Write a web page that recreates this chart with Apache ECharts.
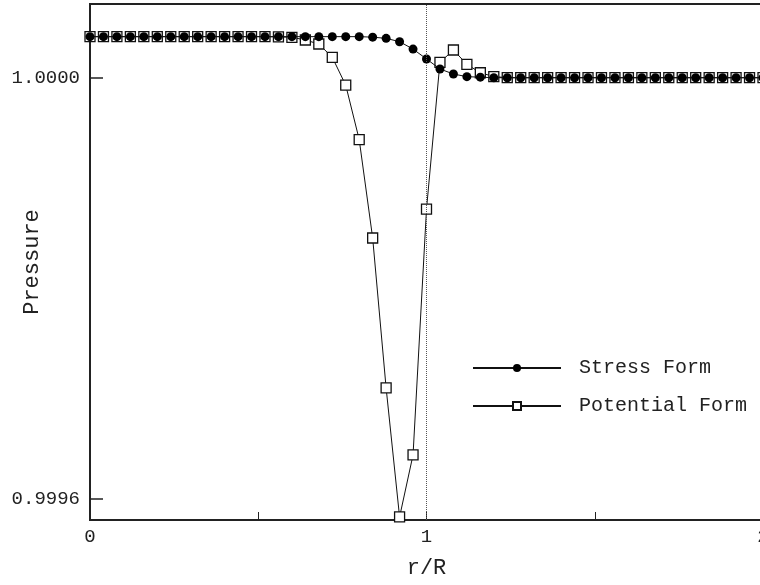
<!DOCTYPE html>
<html>
<head>
<meta charset="utf-8">
<script src="https://cdn.jsdelivr.net/npm/echarts@6/dist/echarts.min.js"></script>
<style>html,body{margin:0;padding:0;background:#fff;}#c{width:760px;height:585px;}</style>
</head>
<body>
<div id="c"></div>
<script>
const xValues = [0.00,0.04,0.08,0.12,0.16,0.20,0.24,0.28,0.32,0.36,0.40,0.44,0.48,0.52,0.56,0.60,0.64,0.68,0.72,0.76,0.80,0.84,0.88,0.92,0.96,1.00,1.04,1.08,1.12,1.16,1.20,1.24,1.28,1.32,1.36,1.40,1.44,1.48,1.52,1.56,1.60,1.64,1.68,1.72,1.76,1.80,1.84,1.88,1.92,1.96,2.00];
const stressForm = [1.000039,1.000039,1.000039,1.000039,1.000039,1.000039,1.000039,1.000039,1.000039,1.000039,1.000039,1.000039,1.000039,1.000039,1.000039,1.000039,1.000039,1.000039,1.000039,1.000039,1.000039,1.0000385,1.0000374,1.0000342,1.0000272,1.0000178,1.0000083,1.0000035,1.000001,1.0000005,1.0,1.0,1.0,1.0,1.0,1.0,1.0,1.0,1.0,1.0,1.0,1.0,1.0,1.0,1.0,1.0,1.0,1.0,1.0,1.0,1.0];
const potentialForm = [1.000039,1.000039,1.000039,1.000039,1.000039,1.000039,1.000039,1.000039,1.000039,1.000039,1.000039,1.000039,1.000039,1.000039,1.0000388,1.0000384,1.0000358,1.000032,1.0000194,0.9999929,0.9999413,0.9998478,0.9997054,0.9995829,0.9996418,0.9998753,1.0000146,1.0000263,1.0000127,1.0000047,1.0000011,1.0,1.0,1.0,1.0,1.0,1.0,1.0,1.0,1.0,1.0,1.0,1.0,1.0,1.0,1.0,1.0,1.0,1.0,1.0,1.0];
const yTickValues = [0.9996, 1.0];
const seriesNames = ['Stress Form', 'Potential Form'];

const FONT = 'Liberation Mono';
const chart = echarts.init(document.getElementById('c'), null, {renderer: 'canvas'});
const pair = (ys) => xValues.map((x, i) => [x, ys[i]]);

chart.setOption({
  animation: false,
  backgroundColor: '#fff',
  grid: {left: 90, top: 4, width: 673, height: 516, outerBoundsMode: 'none', containLabel: false,
    show: true, borderColor: '#222', borderWidth: 2, backgroundColor: 'transparent'},
  xAxis: {
    type: 'value', min: 0, max: 2, interval: 0.5,
    name: 'r/R', nameLocation: 'middle', nameGap: 37, nameMoveOverlap: false,
    nameTextStyle: {fontFamily: FONT, fontSize: 22, color: '#222'},
    axisLine: {show: true, lineStyle: {color: '#222', width: 2}},
    axisTick: {show: true, inside: true, length: 8, lineStyle: {color: '#222', width: 1}},
    axisLabel: {margin: 7, fontFamily: FONT, fontSize: 19, color: '#222', hideOverlap: false,
      formatter: v => (Math.abs(v - Math.round(v)) < 1e-9 ? String(Math.round(v)) : '')},
    splitLine: {show: false}
  },
  yAxis: {
    type: 'value', min: 0.99958, max: 1.00007,
    name: 'Pressure', nameLocation: 'middle', nameGap: 47, nameMoveOverlap: false,
    nameTextStyle: {fontFamily: FONT, fontSize: 22, color: '#222'},
    axisLine: {show: true, lineStyle: {color: '#222', width: 2}},
    axisTick: {show: true, inside: true, length: 13, customValues: yTickValues, lineStyle: {color: '#222', width: 1.5}},
    axisLabel: {margin: 10, fontFamily: FONT, fontSize: 19, color: '#222', customValues: yTickValues,
      formatter: v => v.toFixed(4)},
    splitLine: {show: false}
  },
  legend: {
    orient: 'vertical', left: 472, top: 358, padding: 0,
    data: seriesNames,
    itemWidth: 88, itemHeight: 10, itemGap: 18,
    textStyle: {fontFamily: FONT, fontSize: 20, color: '#222', padding: [0, 0, 0, 13]}
  },
  series: [
    {
      name: seriesNames[1], type: 'line', data: pair(potentialForm),
      symbol: 'rect', symbolSize: 10, showAllSymbol: true,
      lineStyle: {color: '#111', width: 1},
      itemStyle: {color: '#fff', borderColor: '#111', borderWidth: 1.3},
      z: 2,
      markLine: {
        silent: true, symbol: 'none', label: {show: false},
        lineStyle: {type: 'dotted', color: '#555', width: 1},
        data: [{xAxis: 1}]
      }
    },
    {
      name: seriesNames[0], type: 'line', data: pair(stressForm),
      symbol: 'circle', symbolSize: 9, showAllSymbol: true,
      lineStyle: {color: '#111', width: 1},
      itemStyle: {color: '#000', borderColor: '#000', borderWidth: 0},
      z: 3
    }
  ]
});
</script>
</body>
</html>
